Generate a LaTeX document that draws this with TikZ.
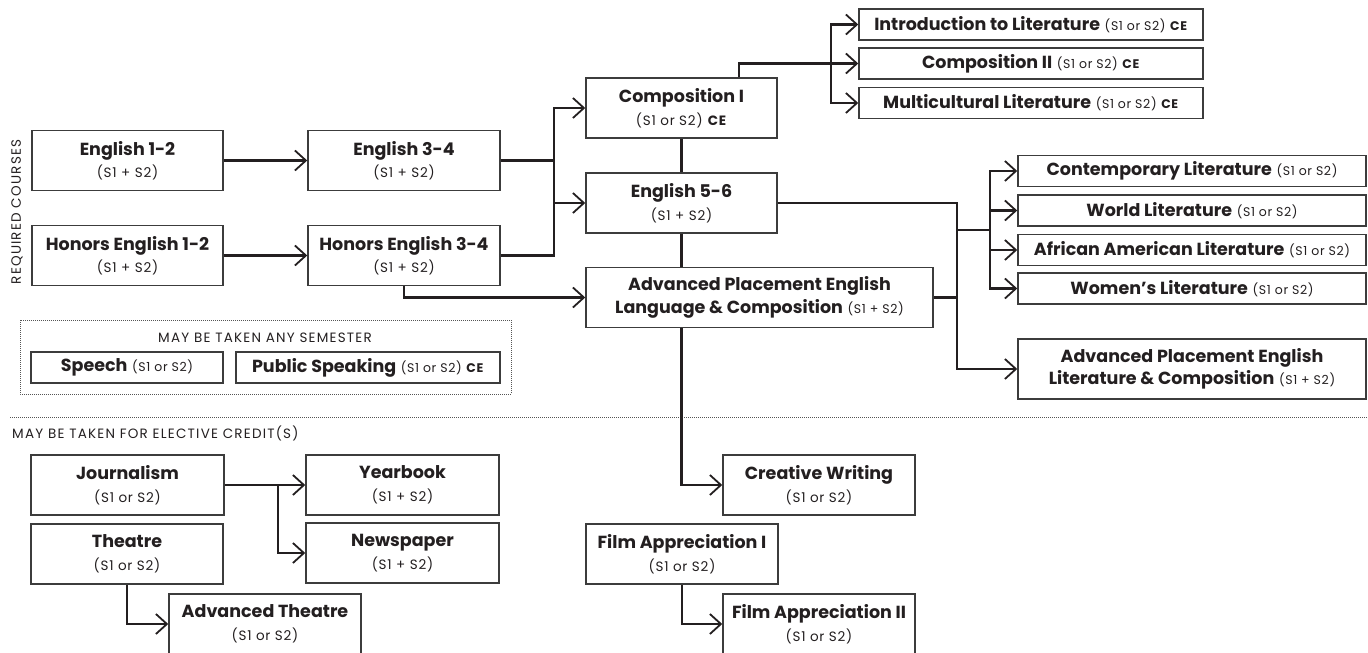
\documentclass[tikz,border=0pt]{standalone}
\usepackage{fontspec}
\setmainfont{Poppins}
\usetikzlibrary{arrows.meta,calc}
\definecolor{ink}{HTML}{231F20}
\definecolor{frame}{HTML}{3C3C3C}
\definecolor{dotc}{HTML}{555555}
% second-line detail text and inline detail text
\newcommand{\subt}[1]{{\fontsize{13.5}{22}\selectfont\addfontfeature{LetterSpace=6}#1}}
\newcommand{\inl}[1]{{\fontsize{12.5}{16}\selectfont\addfontfeature{LetterSpace=5}#1}}
\begin{document}
\begin{tikzpicture}[x=1pt,y=-1pt,
  box/.style={draw=frame, line width=1.5pt, fill=white, text=ink, align=center, inner sep=0pt,
    font=\fontsize{17.5}{22.5}\selectfont},
  tall/.style={minimum height=60pt},
  flat/.style={minimum height=31pt},
  conn/.style={draw=ink, line width=2.1pt},
  arr/.style={conn, -{Straight Barb[length=11pt,width=20pt,line width=1.8pt]}},
  head/.style={text=ink, inner sep=0pt, font=\fontsize{13.5}{16}\selectfont\addfontfeature{LetterSpace=9}},
  dotframe/.style={draw=dotc, line width=0.9pt, dash pattern=on 0.9pt off 1.1pt}
]
\useasboundingbox (0,0) rectangle (1368,653);

% ---------- required courses ----------
\node[head, rotate=90] (req) at (17,212) {REQUIRED COURSES};

\node[box, tall, minimum width=191pt] (e12) at (127.5,160.5) {\textbf{English 1-2}\\\subt{(S1 + S2)}};
\node[box, tall, minimum width=191pt] (he12) at (127.5,255.5) {\textbf{Honors English 1-2}\\\subt{(S1 + S2)}};
\node[box, tall, minimum width=192pt] (e34) at (404,160.5) {\textbf{English 3-4}\\\subt{(S1 + S2)}};
\node[box, tall, minimum width=192pt] (he34) at (404,255.5) {\textbf{Honors English 3-4}\\\subt{(S1 + S2)}};

\node[box, tall, minimum width=191pt] (comp1) at (681.5,108) {\textbf{Composition I}\\\subt{(S1 or S2) \textbf{CE}}};
\node[box, tall, minimum width=191pt] (e56) at (681.5,203) {\textbf{English 5-6}\\\subt{(S1 + S2)}};
\node[box, tall, minimum width=347pt] (aplang) at (759.5,297.5) {\textbf{Advanced Placement English}\\\textbf{Language \& Composition} \inl{(S1 + S2)}};

\node[box, flat, minimum width=344pt] (intro) at (1031,24.5) {\textbf{Introduction to Literature} \inl{(S1 or S2) \textbf{CE}}};
\node[box, flat, minimum width=344pt] (comp2) at (1031,63.5) {\textbf{Composition II} \inl{(S1 or S2) \textbf{CE}}};
\node[box, flat, minimum width=344pt] (multi) at (1031,103) {\textbf{Multicultural Literature} \inl{(S1 or S2) \textbf{CE}}};

\node[box, flat, minimum width=348pt] (contemp) at (1192,171) {\textbf{Contemporary Literature} \inl{(S1 or S2)}};
\node[box, flat, minimum width=348pt] (world) at (1192,210.5) {\textbf{World Literature} \inl{(S1 or S2)}};
\node[box, flat, minimum width=348pt] (african) at (1192,250) {\textbf{African American Literature} \inl{(S1 or S2)}};
\node[box, flat, minimum width=348pt] (women) at (1192,288.5) {\textbf{Women’s Literature} \inl{(S1 or S2)}};
\node[box, tall, minimum width=348pt] (aplit) at (1192,369) {\textbf{Advanced Placement English}\\\textbf{Literature \& Composition} \inl{(S1 + S2)}};

% any semester
\draw[dotframe] (20,320) rectangle (511,394);
\node[head] (anysem) at (265,338) {MAY BE TAKEN ANY SEMESTER};
\node[box, flat, minimum width=192pt] (speech) at (127,367.5) {\textbf{Speech} \inl{(S1 or S2)}};
\node[box, flat, minimum width=264pt] (public) at (368,367.5) {\textbf{Public Speaking} \inl{(S1 or S2) \textbf{CE}}};

% ---------- elective ----------
\draw[dotframe] (10,417) -- (1368,417);
\node[head, anchor=west] (elect) at (12,433) {MAY BE TAKEN FOR ELECTIVE CREDIT(S)};

\node[box, tall, minimum width=193pt] (jour) at (127.5,485) {\textbf{Journalism}\\\subt{(S1 or S2)}};
\node[box, tall, minimum width=193pt] (year) at (402.5,485) {\textbf{Yearbook}\\\subt{(S1 + S2)}};
\node[box, tall, minimum width=192pt] (theatre) at (127,554) {\textbf{Theatre}\\\subt{(S1 or S2)}};
\node[box, tall, minimum width=193pt] (news) at (402.5,553) {\textbf{Newspaper}\\\subt{(S1 + S2)}};
\node[box, tall, minimum width=192pt] (advth) at (265,624) {\textbf{Advanced Theatre}\\\subt{(S1 or S2)}};
\node[box, tall, minimum width=192pt] (creative) at (819,485) {\textbf{Creative Writing}\\\subt{(S1 or S2)}};
\node[box, tall, minimum width=192pt] (film1) at (682,554) {\textbf{Film Appreciation I}\\\subt{(S1 or S2)}};
\node[box, tall, minimum width=192pt] (film2) at (819,624) {\textbf{Film Appreciation II}\\\subt{(S1 or S2)}};

% ---------- connectors ----------
\draw[arr] (e12.east) -- (e34.west);
\draw[arr] (he12.east) -- (he34.west);

\coordinate (j1) at (554,108);
\draw[conn] (e34.east) -- (e34.east -| j1);
\draw[arr] (he34.east) -| (j1) -- (comp1.west);
\draw[arr] (j1 |- e56.west) -- (e56.west);
\draw[arr] (he34.south) |- (aplang.west);

\draw[conn] (comp1.south) -- (e56.north);
\draw[conn] (e56.south) -- (e56.south |- aplang.north);
\draw[arr] (e56.south |- aplang.south) |- (creative.west);

\coordinate (c1top) at ($(comp1.north west)!0.8!(comp1.north east)$);
\coordinate (j2) at (831,63.5);
\draw[arr] (c1top) |- (comp2.west);
\draw[arr] (j2) |- (intro.west);
\draw[arr] (j2) |- (multi.west);

\coordinate (j3) at (957,203);
\coordinate (j4) at (990,230);
\draw[arr] (e56.east) -- (j3) |- (aplit.west);
\draw[conn] (aplang.east) -- (aplang.east -| j3);
\draw[conn] (j4 -| j3) -- (j4);
\draw[arr] (j4) |- (contemp.west);
\draw[arr] (j4) |- (women.west);
\draw[arr] (j4 |- world.west) -- (world.west);
\draw[arr] (j4 |- african.west) -- (african.west);

\coordinate (j5) at (278,485);
\draw[arr] (jour.east) -- (year.west);
\draw[arr] (j5) |- (news.west);
\draw[arr] (theatre.south) |- (advth.west);
\draw[arr] (film1.south) |- (film2.west);
\end{tikzpicture}
\end{document}
